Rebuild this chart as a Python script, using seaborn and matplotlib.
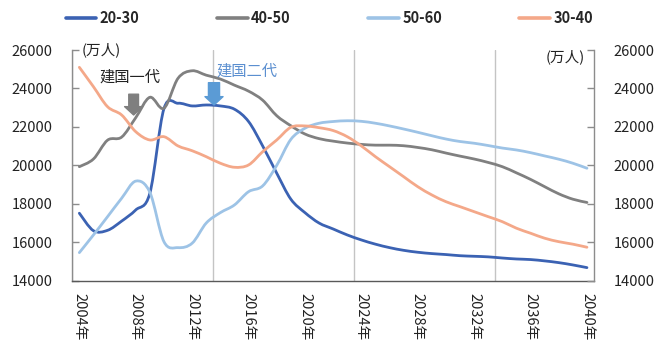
import numpy as np
import pandas as pd
import matplotlib
matplotlib.use("Agg")
import matplotlib.pyplot as plt
from matplotlib.path import Path
from matplotlib.patches import PathPatch
from matplotlib.lines import Line2D
import seaborn as sns

# Population by age band, 10k persons, 2004-2040
years = list(range(2004, 2041))
age_20_30 = [17510, 16600, 16620, 17100, 17680, 18550, 22950, 23230, 23090, 23140,
             23090, 22920, 22280, 21010, 19590, 18240, 17540, 17000, 16690, 16380,
             16120, 15900, 15720, 15580, 15480, 15410, 15360, 15300, 15270, 15240,
             15180, 15130, 15100, 15030, 14940, 14820, 14680]
age_40_50 = [19930, 20330, 21310, 21470, 22480, 23540, 22970, 24530, 24920, 24690,
             24490, 24170, 23860, 23390, 22580, 22060, 21630, 21390, 21260, 21160,
             21090, 21050, 21050, 21020, 20930, 20810, 20640, 20480, 20330, 20150,
             19930, 19610, 19270, 18890, 18520, 18240, 18070]
age_50_60 = [15460, 16380, 17330, 18290, 19180, 18600, 16030, 15720, 15950, 17000,
             17540, 17940, 18630, 18930, 20000, 21350, 21930, 22190, 22280, 22320,
             22290, 22190, 22050, 21890, 21720, 21540, 21370, 21240, 21150, 21030,
             20900, 20800, 20660, 20490, 20320, 20110, 19850]
age_30_40 = [25100, 24090, 23050, 22620, 21750, 21320, 21490, 21010, 20760, 20450,
             20110, 19900, 20020, 20710, 21320, 21980, 22050, 21960, 21810, 21490,
             21010, 20450, 19930, 19410, 18890, 18460, 18110, 17850, 17590, 17330,
             17070, 16730, 16470, 16210, 16030, 15900, 15740]

series_names = ["20-30", "40-50", "50-60", "30-40"]
series_values = [age_20_30, age_40_50, age_50_60, age_30_40]
colors = {"20-30": "#3B62B3", "40-50": "#808080", "50-60": "#9DC3E6", "30-40": "#F4A889"}

y_ticks = [14000, 16000, 18000, 20000, 22000, 24000, 26000]
label_years = list(range(2004, 2041, 4))

frames = []
for name, vals in zip(series_names, series_values):
    frames.append(pd.DataFrame({"pos": np.arange(len(years)), "year": years,
                                "value": vals, "group": name}))
df = pd.concat(frames, ignore_index=True)

sns.set_style("white")
plt.rcParams["font.family"] = ["Noto Sans CJK SC", "DejaVu Sans"]

W, H = 659, 345
fig = plt.figure(figsize=(W / 100, H / 100), dpi=100)
left_px, right_px, top_px, bottom_px = 72.3, 594.0, 50.0, 280.7
ax = fig.add_axes([left_px / W, 1 - bottom_px / H,
                   (right_px - left_px) / W, (bottom_px - top_px) / H])

LW = 2.0
sns.lineplot(data=df, x="pos", y="value", hue="group", hue_order=series_names,
             palette=colors, linewidth=LW, ax=ax, legend=False)


def smooth_path(x, y):
    """Bezier path through the points with Catmull-Rom style control points."""
    pts = np.column_stack([x, y]).astype(float)
    ext = np.vstack([pts[0], pts, pts[-1]])
    verts = [pts[0]]
    codes = [Path.MOVETO]
    for i in range(len(pts) - 1):
        p0, p1, p2, p3 = ext[i], ext[i + 1], ext[i + 2], ext[i + 3]
        verts += [p1 + (p2 - p0) / 6, p2 - (p3 - p1) / 6, p2]
        codes += [Path.CURVE4] * 3
    return Path(verts, codes)


# render the seaborn lines as smoothed curves
for line in list(ax.lines):
    path = smooth_path(line.get_xdata(), line.get_ydata())
    ax.add_patch(PathPatch(path, facecolor="none", edgecolor=line.get_color(),
                           linewidth=LW, capstyle="round", joinstyle="round",
                           zorder=line.get_zorder()))
    line.set_visible(False)

n = len(years)
ax.set_xlim(-0.5, n - 0.5)
ax.set_ylim(14000, 26000)
ax.set_xlabel("")
ax.set_ylabel("")

# category axis: labels every 4 years, tick marks / grid every 10 categories
pos_labels = [years.index(y) for y in label_years]
ax.set_xticks(pos_labels)
ax.set_xticklabels([f"{y}年" for y in label_years], rotation=270, fontsize=10.5,
                   color="#222222")
ax.set_xticks([-0.5, 9.5, 19.5, 29.5], minor=True)
ax.tick_params(axis="x", which="major", length=0, pad=8.5)
ax.tick_params(axis="x", which="minor", length=5, width=1, color="#595959",
               direction="out")
ax.grid(which="minor", axis="x", color="#c4c4c4", linewidth=1.0)
ax.grid(which="major", axis="both", visible=False)

ax.set_yticks(y_ticks)
ax.set_yticklabels([str(v) for v in y_ticks], fontsize=10.5, color="#222222")
ax.tick_params(axis="y", which="major", direction="in", length=5, width=1,
               color="#8c8c8c", pad=14)

ax.spines["top"].set_visible(False)
ax.spines["right"].set_visible(False)
ax.spines["left"].set_color("#8c8c8c")
ax.spines["bottom"].set_color("#595959")
for s in ["left", "bottom"]:
    ax.spines[s].set_linewidth(1.0)

ax2 = ax.twinx()
ax2.set_ylim(14000, 26000)
ax2.set_yticks(y_ticks)
ax2.set_yticklabels([str(v) for v in y_ticks], fontsize=10.5, color="#222222")
ax2.tick_params(axis="y", which="major", direction="in", length=5, width=1,
                color="#8c8c8c", pad=14)
for s in ["top", "left", "bottom"]:
    ax2.spines[s].set_visible(False)
ax2.spines["right"].set_color("#8c8c8c")
ax2.spines["right"].set_linewidth(1.0)
ax2.grid(False)

# unit labels
ax.text(0.018, 1.0, "(万人)", transform=ax.transAxes, ha="left", va="center",
        fontsize=10.5, color="#222222")
ax.text(0.983, 0.97, "(万人)", transform=ax.transAxes, ha="right", va="center",
        fontsize=10.5, color="#222222")

# generation markers
ax.text(3.6, 24570, "建国一代", ha="center", va="center", fontsize=11,
        color="#222222")
ax.annotate("", xy=(3.85, 22620), xytext=(3.85, 23700),
            arrowprops=dict(arrowstyle="simple,head_length=6,head_width=13,tail_width=7",
                            mutation_scale=1, color="#7f7f7f", shrinkA=0, shrinkB=0))
ax.text(9.7, 24908, "建国二代", ha="left", va="center", fontsize=11,
        color="#5B8FD0")
ax.annotate("", xy=(9.55, 23140), xytext=(9.55, 24300),
            arrowprops=dict(arrowstyle="simple,head_length=6,head_width=13,tail_width=8",
                            mutation_scale=1, color="#5B9BD5", shrinkA=0, shrinkB=0))

handles = [Line2D([], [], color=colors[nm], linewidth=2.6) for nm in series_names]
fig.legend(handles, series_names, loc="center", bbox_to_anchor=(0.5, 1 - 18 / H),
           ncol=4, frameon=False, handlelength=2.1, handletextpad=0.25,
           columnspacing=5.3, prop={"weight": "bold", "size": 10.5})

fig.savefig("out.png", dpi=100)
